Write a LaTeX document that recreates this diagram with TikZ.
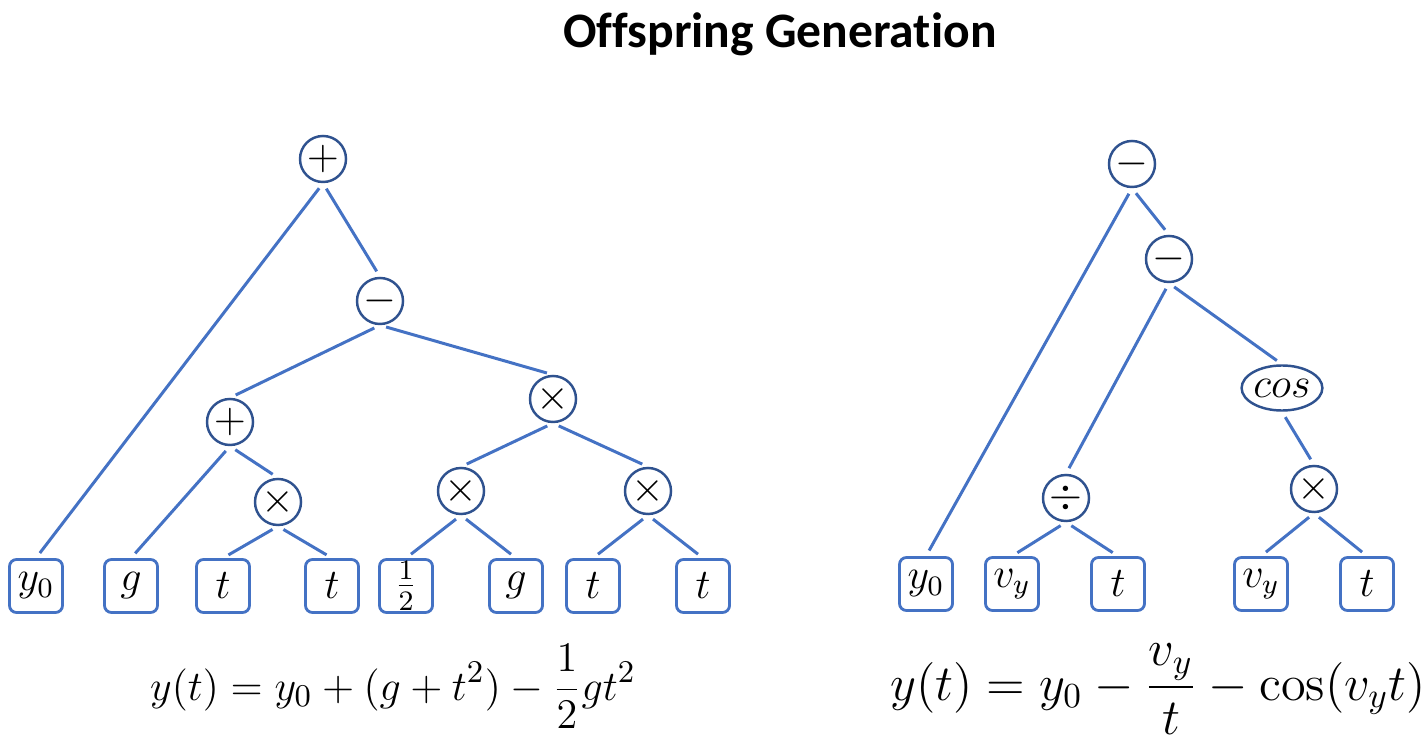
\documentclass[tikz,border=0pt]{standalone}
\usepackage{amsmath}
\usepackage{fontspec}
\newfontfamily\titlefont[Ligatures=NoCommon]{Carlito}
\usepackage{xcolor}
\usetikzlibrary{positioning,shapes.geometric}
\definecolor{lineblue}{HTML}{4472C4}
\definecolor{ringblue}{HTML}{2F528F}

\begin{document}
\begin{tikzpicture}[x=0.01cm, y=-0.01cm,
	opnode/.style={circle, draw=ringblue, line width=0.7pt, minimum size=0.46cm, inner sep=0pt, font=\large},
	leafnode/.style={rectangle, rounded corners=2pt, draw=lineblue, line width=0.8pt, minimum width=0.53cm, minimum height=0.53cm, inner sep=0pt, font=\large},
	branch/.style={lineblue, line width=0.85pt, shorten <=1.8pt, shorten >=1.8pt}]
			\useasboundingbox (0,0) rectangle (1421,743);
			\node[anchor=base] (title) at (780,48) {\titlefont\fontsize{14.1}{17}\selectfont\bfseries Offspring Generation};
			% left tree
			\node[opnode] (la) at (323,159) {$+$};
			\node[opnode] (lb) at (380,301) {$-$};
			\node[opnode] (lc) at (230,422) {$+$};
			\node[opnode] (ld) at (278,502) {$\times$};
			\node[opnode] (le) at (553,399) {$\times$};
			\node[opnode] (lf) at (461,491) {$\times$};
			\node[opnode] (lg) at (648,491) {$\times$};
			\node[leafnode] (ly0) at (36,586) {$y_0$};
			\node[leafnode] (lg1) at (131,586) {$g$};
			\node[leafnode] (lt1) at (223,586) {$t$};
			\node[leafnode] (lt2) at (332,586) {$t$};
			\node[leafnode] (lhalf) at (406,586) {$\frac{1}{2}$};
			\node[leafnode] (lg2) at (516,586) {$g$};
			\node[leafnode] (lt3) at (593,586) {$t$};
			\node[leafnode] (lt4) at (703,586) {$t$};
			\draw[branch] (la.south) -- (ly0.north);
			\draw[branch] (la.south) -- (lb.north);
			\draw[branch] (lb.south) -- (lc.north);
			\draw[branch] (lb.south) -- (le.north);
			\draw[branch] (lc.south) -- (lg1.north);
			\draw[branch] (lc.south) -- (ld.north);
			\draw[branch] (ld.south) -- (lt1.north);
			\draw[branch] (ld.south) -- (lt2.north);
			\draw[branch] (le.south) -- (lf.north);
			\draw[branch] (le.south) -- (lg.north);
			\draw[branch] (lf.south) -- (lhalf.north);
			\draw[branch] (lf.south) -- (lg2.north);
			\draw[branch] (lg.south) -- (lt3.north);
			\draw[branch] (lg.south) -- (lt4.north);
			\node[anchor=base] (leq) at (393,700) {\fontsize{12.85}{15}\selectfont$\displaystyle y(t)=y_0+(g+t^2)-\frac{1}{2}gt^2$};
			% right tree
			\node[opnode] (ra) at (1132,164) {$-$};
			\node[opnode] (rb) at (1169,259) {$-$};
			\node[ellipse, draw=ringblue, line width=0.7pt, minimum width=0.70cm, minimum height=0.45cm, inner sep=0pt, font=\large] (rcos) at (1282,388) {$cos$};
			\node[opnode] (rdiv) at (1066,498) {$\div$};
			\node[opnode] (rmul) at (1314,489) {$\times$};
			\node[leafnode] (ry0) at (926,584) {$y_0$};
			\node[leafnode] (rvy1) at (1012,584) {$v_y$};
			\node[leafnode] (rt1) at (1118,584) {$t$};
			\node[leafnode] (rvy2) at (1261,584) {$v_y$};
			\node[leafnode] (rt2) at (1367,584) {$t$};
			\draw[branch] (ra.south) -- (ry0.north);
			\draw[branch] (ra.south) -- (rb.north);
			\draw[branch] (rb.south) -- (rdiv.north);
			\draw[branch] (rb.south) -- (rcos.north);
			\draw[branch] (rcos.south) -- (rmul.north);
			\draw[branch] (rdiv.south) -- (rvy1.north);
			\draw[branch] (rdiv.south) -- (rt1.north);
			\draw[branch] (rmul.south) -- (rvy2.north);
			\draw[branch] (rmul.south) -- (rt2.north);
			\node[anchor=base] (req) at (1158,700) {\fontsize{14.3}{17}\selectfont$\displaystyle y(t)=y_0-\frac{v_y}{t}-\cos(v_yt)$};
		\end{tikzpicture}
\end{document}
